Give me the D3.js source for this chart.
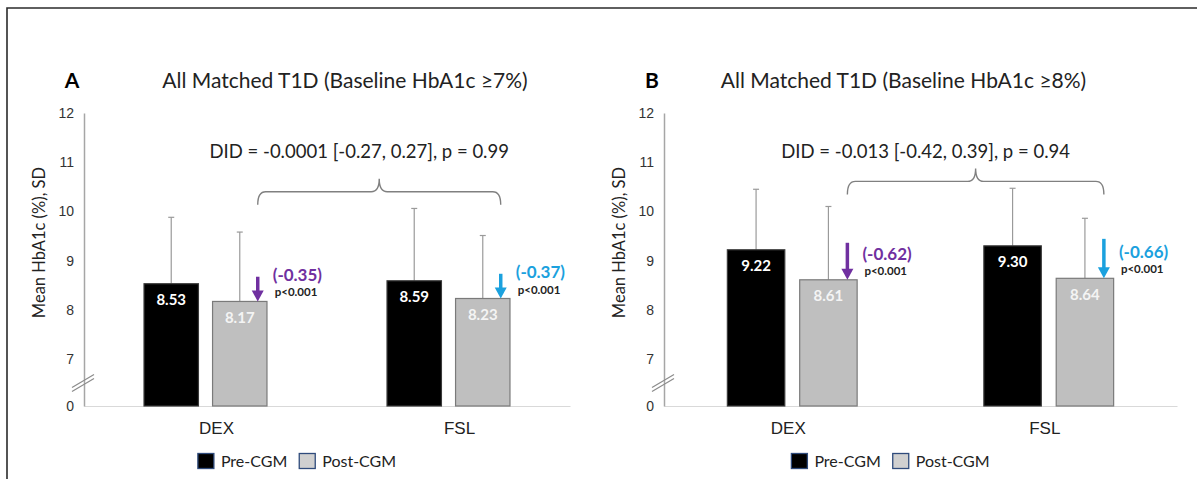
<!DOCTYPE html>
<html><head><meta charset="utf-8">
<script src="https://cdn.jsdelivr.net/npm/d3@7"></script>
<style>
body{margin:0;background:#fff;}
svg{display:block;font-family:Lato,"Open Sans",sans-serif;}
</style>
</head><body><svg id="c" width="1197" height="479"></svg>
<script>
const categories = ["DEX","FSL"];
const seriesNames = ["Pre-CGM","Post-CGM"];
const panelLetters = ["A","B"];
const panelTitles = ["All Matched T1D (Baseline HbA1c \u22657%)","All Matched T1D (Baseline HbA1c \u22658%)"];
const preMeansA = [8.53, 8.59];
const postMeansA = [8.17, 8.23];
const preSDA = [1.35, 1.47];
const postSDA = [1.41, 1.28];
const preMeansB = [9.22, 9.30];
const postMeansB = [8.61, 8.64];
const preSDB = [1.23, 1.17];
const postSDB = [1.49, 1.22];
const changeLabelsA = ["(-0.35)","(-0.37)"];
const changeLabelsB = ["(-0.62)","(-0.66)"];
const pValueLabels = ["p<0.001","p<0.001"];
const didLabels = ["DID = -0.0001 [-0.27, 0.27], p = 0.99","DID = -0.013 [-0.42, 0.39], p = 0.94"];
const yTickValues = [7,8,9,10,11,12];
const yBreakBase = 6.045;   // broken axis: baseline is labelled "0"
const baseLabel = "0";
const yAxisTitle = "Mean HbA1c (%), SD";
const bracketLevels = [10.40, 10.61];
const didLevel = 11.22;

// layout / style
const panels = [
  {x0:84, x1:570, titleDx:18, didDx:-20, labelDx:11,
   pre:preMeansA, post:postMeansA, preSD:preSDA, postSD:postSDA, changes:changeLabelsA},
  {x0:664, x1:1177, titleDx:-17, didDx:-50, labelDx:-4,
   pre:preMeansB, post:postMeansB, preSD:preSDB, postSD:postSDB, changes:changeLabelsB}
];
const changeColors = ["#7030A0","#1BA1DE"];
const barFill = {"Pre-CGM":"#000000","Post-CGM":"#bfbfbf"};
const barStroke = {"Pre-CGM":"#3a3a3a","Post-CGM":"#7a7a7a"};
const valueFill = {"Pre-CGM":"#ffffff","Post-CGM":"#f4f4f4"};
const legendFill = {"Pre-CGM":"#000000","Post-CGM":"#d0d0d0"};

const svg = d3.select("#c");
svg.append("path").attr("d","M7,479 V8 H1197").attr("fill","none")
   .attr("stroke","#2b2b2b").attr("stroke-width",1.6);

const y = d3.scaleLinear().domain([yBreakBase,12]).range([406,113]);

panels.forEach((P,pi)=>{
  const g = svg.append("g");
  const x = d3.scaleBand().domain(categories).range([P.x0,P.x1]);
  const bw = x.bandwidth();
  const xs = d3.scaleBand().domain(seriesNames).range([-0.253*bw,0.253*bw]).paddingInner(0.206);
  const sbw = xs.bandwidth();
  const cx = c => x(c)+bw/2;

  // x axis baseline + labels
  const xa = g.append("g").attr("transform",`translate(0,${y(yBreakBase)})`)
    .call(d3.axisBottom(x).tickSize(0).tickSizeOuter(0));
  xa.select(".domain").attr("stroke","#d9d9d9").attr("stroke-width",1.2);
  xa.selectAll("text").attr("y",22).attr("dy","0.35em").attr("dx",P.labelDx)
    .attr("font-size",17).attr("fill","#222").attr("font-family",null);

  // bars
  const rows = [];
  categories.forEach((c,i)=>{
    rows.push({c, s:"Pre-CGM", v:P.pre[i], sd:P.preSD[i]});
    rows.push({c, s:"Post-CGM", v:P.post[i], sd:P.postSD[i]});
  });
  const bx = d => cx(d.c)+xs(d.s);

  // error bars (upper)
  const eb = g.append("g").attr("stroke","#9a9a9a").attr("stroke-width",1.2);
  eb.selectAll("line.v").data(rows).join("line").attr("class","v")
    .attr("x1",d=>bx(d)+sbw/2).attr("x2",d=>bx(d)+sbw/2)
    .attr("y1",d=>y(d.v)).attr("y2",d=>y(d.v+d.sd));
  eb.selectAll("line.h").data(rows).join("line").attr("class","h")
    .attr("x1",d=>bx(d)+sbw/2-3).attr("x2",d=>bx(d)+sbw/2+3)
    .attr("y1",d=>y(d.v+d.sd)).attr("y2",d=>y(d.v+d.sd));

  g.selectAll("rect.bar").data(rows).join("rect").attr("class","bar")
    .attr("x",bx).attr("width",sbw)
    .attr("y",d=>y(d.v)).attr("height",d=>y(yBreakBase)-y(d.v))
    .attr("fill",d=>barFill[d.s]).attr("stroke",d=>barStroke[d.s]).attr("stroke-width",1.2);

  g.selectAll("text.val").data(rows).join("text").attr("class","val")
    .attr("x",d=>bx(d)+sbw/2).attr("y",d=>y(d.v)+16).attr("dy","0.35em")
    .attr("text-anchor","middle").attr("font-weight","bold").attr("font-size",15)
    .attr("fill",d=>valueFill[d.s]).text(d=>d.v.toFixed(2));

  // y axis
  const ya = g.append("g").attr("transform",`translate(${P.x0},0)`)
    .call(d3.axisLeft(y).tickValues([yBreakBase,...yTickValues]).tickSize(0).tickPadding(10)
      .tickFormat(d=> d===yBreakBase ? baseLabel : d));
  ya.select(".domain").attr("stroke","#a6a6a6").attr("stroke-width",1.5);
  ya.selectAll("text").attr("font-size",14).attr("fill","#333").attr("font-family",null);

  // axis break marks
  const by = (y(yBreakBase)+y(yTickValues[0]))/2;
  [-2,2].forEach(o=>{
    g.append("line").attr("x1",P.x0-12).attr("x2",P.x0+10)
      .attr("y1",by+7+o).attr("y2",by-6+o)
      .attr("stroke","#8c8c8c").attr("stroke-width",1.2);
  });

  // y axis title
  g.append("text").attr("transform",`translate(${P.x0-45},${(y(12)+y(yBreakBase))/2-17}) rotate(-90)`)
    .attr("text-anchor","middle").attr("dy","0.35em").attr("font-size",16.5).attr("fill","#222")
    .text(yAxisTitle);

  // change arrows
  const arrowX = categories.map(c=> cx(c)+xs("Post-CGM")+sbw-0.17*sbw);
  categories.forEach((c,i)=>{
    const ax = arrowX[i], top = y(P.pre[i])-7, tip = y(P.post[i]);
    g.append("line").attr("x1",ax).attr("x2",ax).attr("y1",top).attr("y2",tip-9)
      .attr("stroke",changeColors[i]).attr("stroke-width",3.5);
    g.append("path").attr("d",`M${ax-6},${tip-11} L${ax+6},${tip-11} L${ax},${tip} Z`)
      .attr("fill",changeColors[i]);
    g.append("text").attr("x",ax+15).attr("y",tip-26).attr("dy","0.35em")
      .attr("font-weight","bold").attr("font-size",17).attr("fill",changeColors[i])
      .text(P.changes[i]);
    g.append("text").attr("x",ax+17).attr("y",tip-9).attr("dy","0.35em")
      .attr("font-weight","bold").attr("font-size",11.5).attr("fill","#222")
      .text(pValueLabels[i]);
  });

  // brace
  const x1 = arrowX[0], x2 = arrowX[1], yb = y(bracketLevels[pi]), mid = (x1+x2)/2;
  g.append("path").attr("fill","none").attr("stroke","#808080").attr("stroke-width",1.4)
    .attr("d",`M${x1},${yb+13} Q${x1},${yb} ${x1+8},${yb} L${mid-8},${yb} Q${mid},${yb} ${mid},${yb-13} Q${mid},${yb} ${mid+8},${yb} L${x2-8},${yb} Q${x2},${yb} ${x2},${yb+13}`);
  g.append("text").attr("x",mid+P.didDx).attr("y",y(didLevel)).attr("dy","0.35em")
    .attr("text-anchor","middle").attr("font-size",18.5).attr("fill","#222").text(didLabels[pi]);

  // title + letter
  g.append("text").attr("x",(P.x0+P.x1)/2+P.titleDx).attr("y",81).attr("dy","0.35em")
    .attr("text-anchor","middle").attr("font-size",21).attr("fill","#222").text(panelTitles[pi]);
  g.append("text").attr("x",P.x0-12).attr("y",81).attr("dy","0.35em")
    .attr("text-anchor","middle").attr("font-size",21).attr("font-weight","bold").attr("fill","#000")
    .text(panelLetters[pi]);

  // legend
  const lg = g.append("g");
  let lx = 0;
  seriesNames.forEach((s,k)=>{
    lg.append("rect").attr("x",lx).attr("y",-7.5).attr("width",16).attr("height",15)
      .attr("fill",legendFill[s]).attr("stroke","#2f4b7c").attr("stroke-width",1.3);
    const t = lg.append("text").attr("x",lx+23).attr("y",0).attr("dy","0.35em")
      .attr("font-size",16).attr("fill","#222").text(s);
    lx += 23 + t.node().getComputedTextLength() + (k===0?12:0);
  });
  lg.attr("transform",`translate(${(P.x0+P.x1)/2-30-lx/2},461)`);
});
</script>
</body></html>
